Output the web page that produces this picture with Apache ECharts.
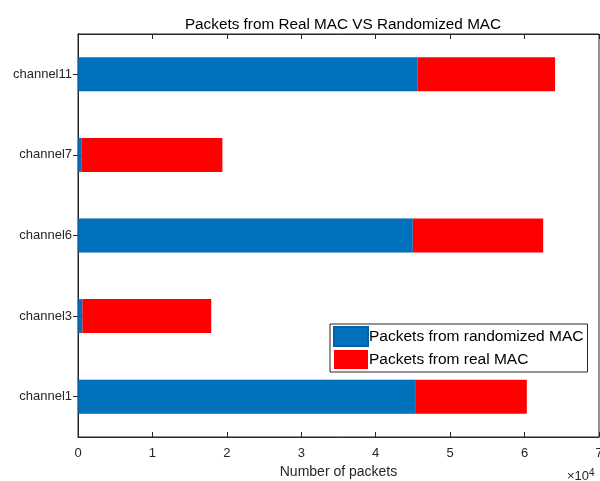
<!DOCTYPE html>
<html>
<head>
<meta charset="utf-8">
<script src="https://cdn.jsdelivr.net/npm/echarts@6/dist/echarts.min.js"></script>
<style>
  html, body { margin: 0; padding: 0; background: #fff; overflow: hidden; }
  #main { width: 600px; height: 481px; }
</style>
</head>
<body>
<div id="main"></div>
<script type="text/javascript">
  // data (packets)
  var channels = ['channel1', 'channel3', 'channel6', 'channel7', 'channel11'];
  var randomized = [45300, 600, 45000, 500, 45600];
  var real = [15000, 17300, 17500, 18900, 18500];
  var xTicks = [0, 1, 2, 3, 4, 5, 6, 7];

  var font = 'Liberation Sans';
  var axisColor = '#262626';

  var myChart = echarts.init(document.getElementById('main'));

  var option = {
    animation: false,
    backgroundColor: '#fff',
    textStyle: { fontFamily: font },
    title: {
      text: 'Packets from Real MAC VS Randomized MAC',
      left: 338,
      textAlign: 'center',
      top: 12,
      textStyle: { fontFamily: font, fontSize: 15.3, fontWeight: 'normal', color: '#000' }
    },
    legend: {
      data: ['Packets from randomized MAC', 'Packets from real MAC'],
      orient: 'vertical',
      left: 330,
      top: 324,
      icon: 'rect',
      itemWidth: 34,
      itemHeight: 19,
      itemGap: 3,
      padding: [2, 4, 3, 3],
      borderColor: '#262626',
      borderWidth: 1,
      backgroundColor: '#fff',
      textStyle: { fontFamily: font, fontSize: 15.5, color: '#000', padding: [0, 0, 0, -4] }
    },
    grid: {
      left: 78,
      right: 1,
      top: 34,
      bottom: 44,
      outerBoundsMode: 'none',
      containLabel: false,
      show: true,
      borderColor: axisColor,
      borderWidth: 1
    },
    xAxis: [
      {
        type: 'value',
        min: 0,
        max: 70000,
        interval: 10000,
        name: 'Number of packets',
        nameLocation: 'middle',
        nameGap: 23,
        nameTextStyle: { fontFamily: font, fontSize: 14, color: axisColor },
        axisLine: { show: true, lineStyle: { color: axisColor } },
        axisTick: { show: true, inside: true, length: 5, lineStyle: { color: axisColor } },
        axisLabel: {
          fontFamily: font, fontSize: 13, color: axisColor, margin: 10,
          formatter: function (v) { return xTicks[Math.round(v / 10000)]; }
        },
        splitLine: { show: false }
      },
      {
        type: 'value',
        position: 'top',
        min: 0,
        max: 70000,
        interval: 10000,
        axisLine: { show: true, lineStyle: { color: axisColor } },
        axisTick: { show: true, inside: true, length: 5, lineStyle: { color: axisColor } },
        axisLabel: { show: false },
        splitLine: { show: false }
      }
    ],
    yAxis: [
      {
        type: 'category',
        data: channels,
        axisLine: { show: true, lineStyle: { color: axisColor } },
        axisTick: { show: true, inside: true, length: 5, alignWithLabel: true, lineStyle: { color: axisColor } },
        axisLabel: { fontFamily: font, fontSize: 13, color: axisColor, margin: 6 }
      },
      {
        type: 'category',
        position: 'right',
        data: channels,
        axisLine: { show: true, lineStyle: { color: axisColor } },
        axisTick: { show: true, inside: true, length: 5, alignWithLabel: true, lineStyle: { color: axisColor } },
        axisLabel: { show: false }
      }
    ],
    graphic: [
      {
        type: 'text',
        left: 567,
        top: 468,
        style: {
          text: '×10{s|4}',
          fill: axisColor,
          font: '13px "Liberation Sans"',
          rich: {
            s: { fontSize: 10, fontFamily: font, fill: axisColor, verticalAlign: 'top', padding: [0, 0, 6, 0] }
          }
        }
      }
    ],
    series: [
      {
        name: 'Packets from randomized MAC',
        type: 'bar',
        stack: 'Total',
        barWidth: 34,
        itemStyle: { color: '#0072BD', borderColor: '#0062a8', borderWidth: 0.5 },
        data: randomized
      },
      {
        name: 'Packets from real MAC',
        type: 'bar',
        stack: 'Total',
        barWidth: 34,
        itemStyle: { color: '#FF0000' },
        data: real
      }
    ]
  };

  myChart.setOption(option);
</script>
</body>
</html>
